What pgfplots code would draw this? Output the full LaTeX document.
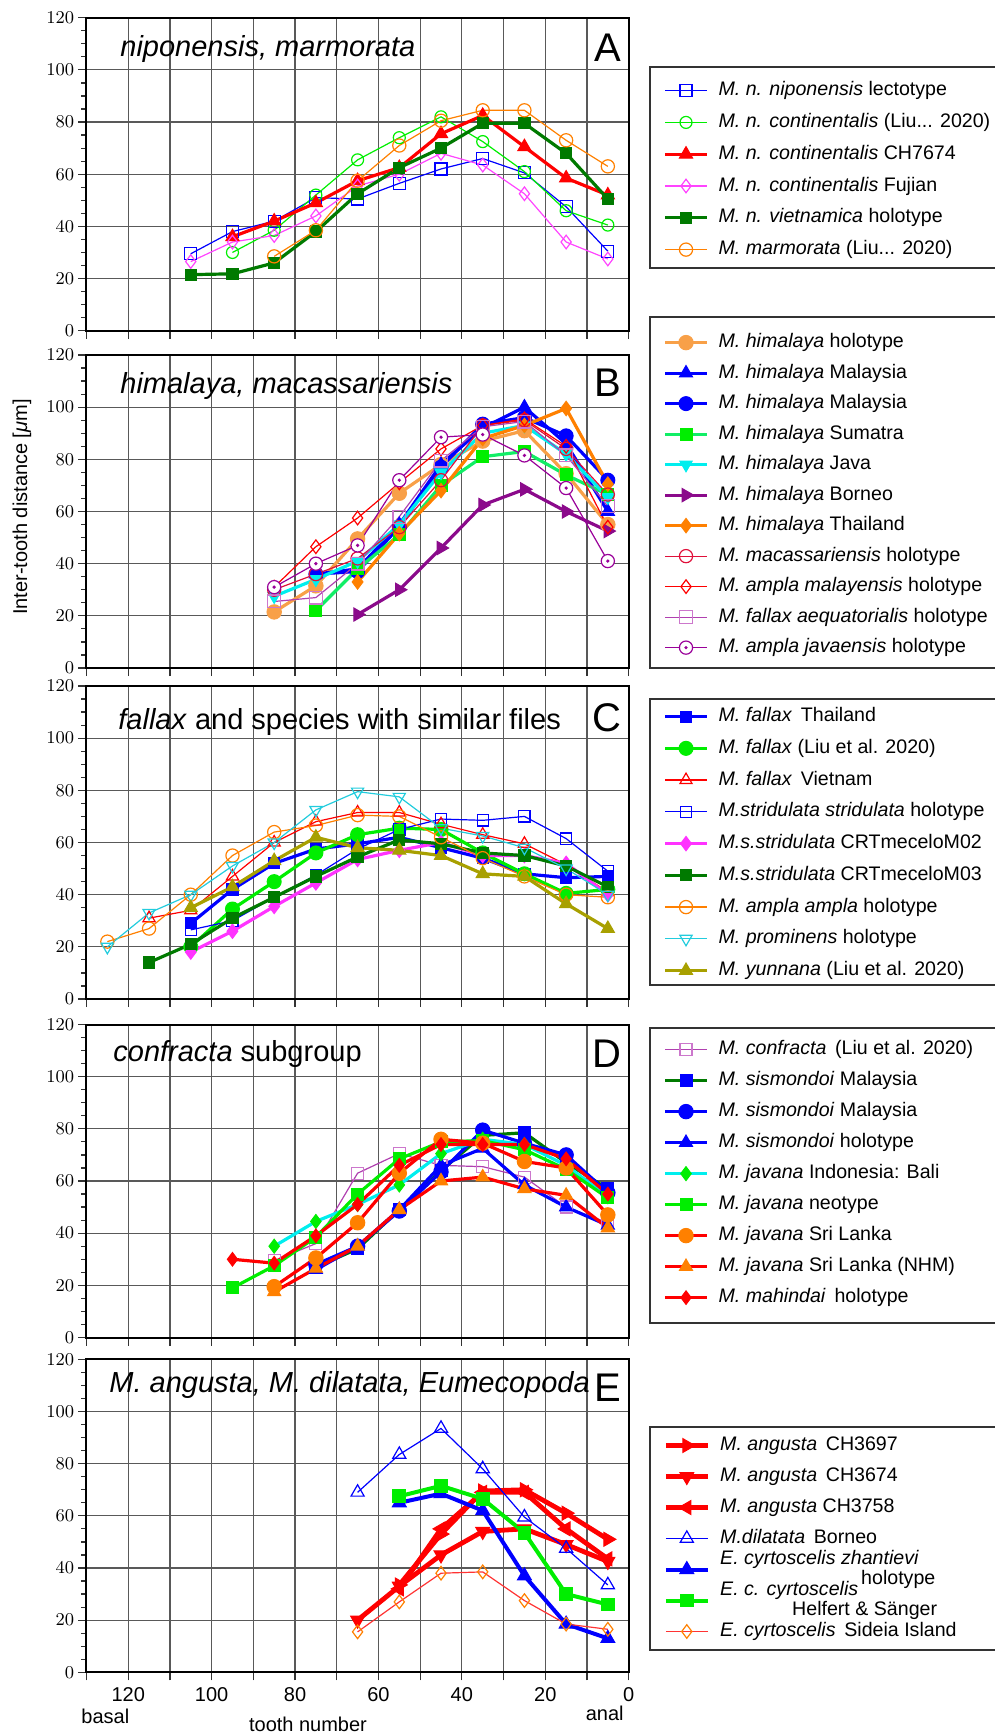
\documentclass[border=0pt]{standalone}
\usepackage{fontspec}
\setmainfont{Liberation Sans}
\setsansfont{Liberation Sans}
\usepackage{pgfplots}
\pgfplotsset{compat=1.18}

\definecolor{cblue}{HTML}{0000FF}
\definecolor{cgreen}{HTML}{00EE00}
\definecolor{cred}{HTML}{FF0000}
\definecolor{cmag}{HTML}{FF44FF}
\definecolor{cdkgreen}{HTML}{007A00}
\definecolor{corange}{HTML}{FF8000}
\definecolor{clorange}{HTML}{F8A048}
\definecolor{cmint}{HTML}{11EE66}
\definecolor{ccyan}{HTML}{00EEEE}
\definecolor{cborneo}{HTML}{8B0A8B}
\definecolor{ccrimson}{HTML}{E0103A}
\definecolor{cpp}{HTML}{B040B0}
\definecolor{cpinksq}{HTML}{CC77CC}
\definecolor{cjav}{HTML}{990099}
\definecolor{colive}{HTML}{A8A000}
\definecolor{cprom}{HTML}{22CCDD}
\definecolor{cmag2}{HTML}{FF33FF}

\pgfdeclareplotmark{odot}{%
  \pgfpathcircle{\pgfpointorigin}{\pgfplotmarksize}%
  \pgfusepathqfillstroke
  \pgfpathcircle{\pgfpointorigin}{0.15\pgfplotmarksize}%
  \pgfusepathqstroke
}

\pgfplotsset{
  panel/.style={
    scale only axis, width=271.1pt, height=156.5pt, anchor=north west,
    xmin=0, xmax=130, ymin=0, ymax=120, x dir=reverse,
    xtick={0,10,...,130}, xticklabels={},
    ytick={0,20,...,120}, minor y tick num=3,
    tick pos=left, tick align=outside,
    major tick length=4pt, minor tick length=2.5pt,
    xmajorgrids, ymajorgrids,
    major grid style={black!65, line width=0.6pt},
    every tick/.style={black!80, line width=0.6pt},
    axis line style={black, line width=1pt},
    yticklabel style={font=\fontsize{9.5}{11}\selectfont, inner sep=2pt},
    xticklabel style={font=\fontsize{10}{12}\selectfont},
    legend cell align=left,
    legend style={draw=none, fill=none, inner sep=0pt, anchor=north west,
       font=\fontsize{9.8}{12}\selectfont,
       nodes={inner sep=1pt, text height=7pt, text depth=2pt},
       /tikz/every odd column/.append style={column sep=4pt}},
    legend image code/.code={\draw[mark repeat=2,mark phase=2,##1] plot coordinates {(0pt,0pt) (10.5pt,0pt) (21pt,0pt)};},
  },
  tl/.style={line width=0.6pt, mark size=3pt, every mark/.append style={line width=0.6pt, solid}},
  tk/.style={line width=1.6pt, mark size=3.4pt, every mark/.append style={line width=0.5pt, solid}},
  wf/.style={every mark/.append style={fill=white}},
}

\begin{document}
\begin{tikzpicture}
\path[use as bounding box] (0,0) rectangle (497.5pt,-867.5pt);

% ---------------- Panel A ----------------
\begin{axis}[panel, at={(43.25pt,-8.85pt)}, legend style={at={(1.0633,0.8035)}, row sep=4.9pt}]
\addplot[tl, color=cblue, mark=square, wf] coordinates {(105,29.5)(95,38)(85,42)(75,51)(65,50.5)(55,56.5)(45,62)(35,66)(25,60.5)(15,47.5)(5,30.5)};
\addlegendentry{\textit{M. n. niponensis} lectotype}
\addplot[tl, color=cgreen, mark=o, wf] coordinates {(95,30)(85,38.5)(75,52)(65,65.5)(55,74)(45,82)(35,72.5)(25,61)(15,46)(5,40.5)};
\addlegendentry{\textit{M. n. continentalis} (Liu... 2020)}
\addplot[tk, color=cred, mark=triangle*, mark size=3.8pt] coordinates {(95,36)(85,42)(75,49)(65,57.5)(55,62.5)(45,75.5)(35,82.5)(25,70.5)(15,58.5)(5,52)};
\addlegendentry{\textit{M. n. continentalis} CH7674}
\addplot[tl, color=cmag, mark=diamond, mark size=3.4pt, wf] coordinates {(105,26.5)(95,34)(85,36.5)(75,44)(65,55.5)(55,60)(45,68)(35,63.5)(25,52.5)(15,34)(5,27.5)};
\addlegendentry{\textit{M. n. continentalis} Fujian}
\addplot[tk, color=cdkgreen, mark=square*, mark size=2.8pt] coordinates {(105,21.5)(95,21.8)(85,26)(75,38)(65,52.5)(55,62.5)(45,70)(35,79.5)(25,79.5)(15,68)(5,50.5)};
\addlegendentry{\textit{M. n. vietnamica} holotype}
\addplot[tl, color=corange, mark=o, mark size=3.3pt, wf] coordinates {(85,28.5)(75,38.5)(65,57.5)(55,71)(45,80.5)(35,84.5)(25,84.5)(15,73)(5,63)};
\addlegendentry{\textit{M. marmorata} (Liu... 2020)}
\end{axis}

% ---------------- Panel B ----------------
\begin{axis}[panel, at={(43.25pt,-177.5pt)}, legend style={at={(1.0633,1.076)}, row sep=4.25pt}]
\addplot[tk, color=clorange, mark=*, mark size=3.6pt] coordinates {(85,21.5)(75,31.5)(65,49.5)(55,67)(45,78)(35,87)(25,91)(15,74.5)(5,55)};
\addlegendentry{\textit{M. himalaya} holotype}
\addplot[tk, color=cblue, mark=triangle*, mark size=3.8pt] coordinates {(75,36)(65,38)(55,55)(45,78)(35,92)(25,100)(15,86)(5,60)};
\addlegendentry{\textit{M. himalaya} Malaysia}
\addplot[tk, color=cblue, mark=*, mark size=3.5pt] coordinates {(75,36)(65,37)(55,54)(45,77)(35,93.5)(25,96)(15,89)(5,72)};
\addlegendentry{\textit{M. himalaya} Malaysia}
\addplot[tk, color=cmint, mark=square*, mark size=3pt, every mark/.append style={fill=cgreen, draw=cgreen}] coordinates {(75,22)(65,38)(55,51)(45,70)(35,81)(25,83)(15,74)(5,66.5)};
\addlegendentry{\textit{M. himalaya} Sumatra}
\addplot[tk, color=ccyan, mark=triangle*, mark size=3.6pt, every mark/.append style={rotate=180}] coordinates {(85,27.5)(75,34)(65,41)(55,55)(45,75)(35,90)(25,93)(15,82)(5,65.5)};
\addlegendentry{\textit{M. himalaya} Java}
\addplot[tk, color=cborneo, mark=triangle*, mark size=3.8pt, every mark/.append style={rotate=-90}] coordinates {(65,20.5)(55,30)(45,46)(35,62.5)(25,68.5)(15,60)(5,52.5)};
\addlegendentry{\textit{M. himalaya} Borneo}
\addplot[tk, color=corange, mark=diamond*, mark size=3.6pt] coordinates {(65,33)(55,51.5)(45,68)(35,88)(25,93)(15,99.5)(5,70.5)};
\addlegendentry{\textit{M. himalaya} Thailand}
\addplot[tl, color=ccrimson, mark=o, mark size=3.3pt, wf] coordinates {(85,30)(75,36)(65,42)(55,54)(45,72)(35,93)(25,95)(15,84)(5,66.5)};
\addlegendentry{\textit{M. macassariensis} holotype}
\addplot[tl, color=cred, mark=diamond, mark size=3.4pt, wf] coordinates {(85,31)(75,46.5)(65,57.5)(55,71)(45,84)(35,93)(25,95.5)(15,85)(5,54)};
\addlegendentry{\textit{M. ampla malayensis} holotype}
\addplot[tl, color=cpp, mark=square, mark size=3.2pt, every mark/.append style={fill=white, draw=cpinksq}] coordinates {(85,25.5)(75,27)(65,40)(55,58)(45,79.5)(35,92.5)(25,94.5)(15,81.5)(5,62)};
\addlegendentry{\textit{M. fallax aequatorialis} holotype}
\addplot[tl, color=cjav, mark=odot, mark size=3.3pt, wf] coordinates {(85,31)(75,40)(65,47)(55,72)(45,88.5)(35,89.5)(25,81.5)(15,69)(5,41)};
\addlegendentry{\textit{M. ampla javaensis} holotype}
\end{axis}

% ---------------- Panel C ----------------
\begin{axis}[panel, at={(43.25pt,-343pt)}, legend style={at={(1.0633,0.9387)}, row sep=4.875pt}]
\addplot[tk, color=cblue, mark=square*, mark size=2.8pt] coordinates {(105,29)(95,42)(85,52)(75,57.5)(65,59.5)(55,62)(45,58)(35,54)(25,48)(15,46.5)(5,47)};
\addlegendentry{\textit{M. fallax}\, Thailand}
\addplot[tk, color=cgreen, mark=*, mark size=3.5pt] coordinates {(105,20)(95,34.5)(85,45)(75,56)(65,63)(55,65.5)(45,65)(35,56)(25,48)(15,40.5)(5,42)};
\addlegendentry{\textit{M. fallax} (Liu et al. 2020)}
\addplot[tl, color=cred, mark=triangle, mark size=3.5pt, wf] coordinates {(115,31)(105,34)(95,47)(85,60)(75,68)(65,71.5)(55,71.5)(45,67)(35,63)(25,59.5)(15,51.5)(5,41)};
\addlegendentry{\textit{M. fallax}\, Vietnam}
\addplot[tl, color=cblue, mark=square, mark size=2.8pt, wf] coordinates {(105,26.5)(95,30)(85,39)(75,47.5)(65,57.5)(55,65)(45,69)(35,68.5)(25,70)(15,61.5)(5,49)};
\addlegendentry{\textit{M.stridulata stridulata} holotype}
\addplot[tk, color=cmag2, mark=diamond*, mark size=3.6pt] coordinates {(105,18)(95,26)(85,35.5)(75,44.5)(65,53.5)(55,57)(45,60)(35,55)(25,55)(15,52)(5,40)};
\addlegendentry{\textit{M.s.stridulata} CRTmeceloM02}
\addplot[tk, color=cdkgreen, mark=square*, mark size=2.8pt] coordinates {(115,14)(105,21)(95,31)(85,39)(75,47)(65,54.5)(55,61)(45,59.5)(35,56)(25,55)(15,51)(5,43)};
\addlegendentry{\textit{M.s.stridulata} CRTmeceloM03}
\addplot[tl, color=corange, mark=o, mark size=3.3pt, wf] coordinates {(125,22)(115,27)(105,40)(95,55)(85,64)(75,66.5)(65,70.5)(55,70)(45,62)(35,54)(25,47)(15,40)(5,39)};
\addlegendentry{\textit{M. ampla ampla} holotype}
\addplot[tl, color=cprom, mark=triangle, mark size=3.5pt, every mark/.append style={fill=white, rotate=180}] coordinates {(125,20)(115,33)(105,40)(95,51)(85,60)(75,72.5)(65,79.5)(55,77.5)(45,65.5)(35,62.5)(25,58)(15,50)(5,40)};
\addlegendentry{\textit{M. prominens} holotype}
\addplot[tk, color=colive, mark=triangle*, mark size=3.8pt] coordinates {(105,35)(95,43)(85,53)(75,62)(65,58)(55,57)(45,55)(35,48)(25,47)(15,36.5)(5,27)};
\addlegendentry{\textit{M. yunnana} (Liu et al. 2020)}
\end{axis}

% ---------------- Panel D ----------------
\begin{axis}[panel, at={(43.25pt,-512.25pt)}, legend style={at={(1.0633,0.9562)}, row sep=4.5pt}]
\addplot[tl, color=cpp, mark=square, mark size=3pt, every mark/.append style={fill=white, draw=cpinksq}] coordinates {(85,29.5)(75,36)(65,63)(55,70.5)(45,66)(35,65.5)(25,61.5)(15,50)(5,44)};
\addlegendentry{\textit{M. confracta}\, (Liu et al. 2020)}
\addplot[tk, color=cdkgreen, mark=square*, mark size=3pt, every mark/.append style={fill=cblue, draw=cblue}] coordinates {(75,27)(65,34)(55,49)(45,64)(35,77.5)(25,78.5)(15,67)(5,57)};
\addlegendentry{\textit{M. sismondoi} Malaysia}
\addplot[tk, color=cblue, mark=*, mark size=3.6pt] coordinates {(75,28)(65,35)(55,48.5)(45,63.5)(35,79.5)(25,74.5)(15,70)(5,55.5)};
\addlegendentry{\textit{M. sismondoi} Malaysia}
\addplot[tk, color=cblue, mark=triangle*, mark size=3.8pt] coordinates {(75,26)(65,35)(55,49)(45,66)(35,72.5)(25,58.5)(15,50)(5,43)};
\addlegendentry{\textit{M. sismondoi} holotype}
\addplot[tk, color=ccyan, mark=diamond*, mark size=3.5pt, every mark/.append style={fill=cgreen, draw=cgreen}] coordinates {(85,35)(75,44.5)(65,51)(55,58.5)(45,70.5)(35,76)(25,74)(15,66)(5,54)};
\addlegendentry{\textit{M. javana} Indonesia: Bali}
\addplot[tk, color=cgreen, mark=square*, mark size=3pt] coordinates {(95,19)(85,27.5)(75,38.5)(65,55)(55,68.5)(45,75)(35,75.5)(25,72)(15,64.5)(5,53.5)};
\addlegendentry{\textit{M. javana} neotype}
\addplot[tk, color=cred, mark=*, mark size=3.6pt, every mark/.append style={fill=corange, draw=corange}] coordinates {(85,19.5)(75,30.5)(65,44)(55,63)(45,76)(35,74.5)(25,67.5)(15,65)(5,47)};
\addlegendentry{\textit{M. javana} Sri Lanka}
\addplot[tk, color=cred, mark=triangle*, mark size=3.8pt, every mark/.append style={fill=corange, draw=corange}] coordinates {(85,17.5)(75,26.5)(65,35)(55,49)(45,60)(35,61.5)(25,57)(15,54.5)(5,42)};
\addlegendentry{\textit{M. javana} Sri Lanka (NHM)}
\addplot[tk, color=cred, mark=diamond*, mark size=3.4pt] coordinates {(95,30)(85,28.5)(75,39)(65,51)(55,66)(45,74)(35,74)(25,74)(15,68.5)(5,55)};
\addlegendentry{\textit{M. mahindai}\, holotype}
\end{axis}

% ---------------- Panel E ----------------
\begin{axis}[panel, at={(43.25pt,-679.65pt)}, xticklabels={0,,20,,40,,60,,80,,100,,120,},
  legend style={at={(1.0633,0.761)}, row sep=4.5pt}]
\addplot[tk, line width=2.4pt, color=cred, mark=triangle*, mark size=4pt, every mark/.append style={rotate=-90}] coordinates {(55,33.5)(45,53)(35,69.5)(25,70)(15,61)(5,51)};
\addlegendentry{\textit{M. angusta}\, CH3697}
\addplot[tk, line width=2.4pt, color=cred, mark=triangle*, mark size=4pt, every mark/.append style={rotate=180}] coordinates {(65,20)(55,33)(45,45)(35,54)(25,55)(15,49)(5,42.5)};
\addlegendentry{\textit{M. angusta}\, CH3674}
\addplot[tk, line width=2.4pt, color=cred, mark=triangle*, mark size=4pt, every mark/.append style={rotate=90}] coordinates {(55,32)(45,55)(35,69)(25,69)(15,55)(5,43.5)};
\addlegendentry{\textit{M. angusta} CH3758}
\addplot[tl, color=cblue, mark=triangle, mark size=3.8pt, wf] coordinates {(65,69)(55,83.5)(45,93.5)(35,78)(25,59.5)(15,47.5)(5,33.5)};
\addlegendentry{\textit{M.dilatata}\, Borneo}
\addplot[tk, line width=2pt, color=cblue, mark=triangle*, mark size=4pt] coordinates {(55,65)(45,68.5)(35,62)(25,37)(15,18.5)(5,13)};
\addlegendentry{\smash{$\vcenter{\baselineskip=8.5pt\hbox{\textit{E. cyrtoscelis zhantievi}}\hbox{\hspace*{70.5pt}holotype}}$}}
\addplot[tk, line width=2pt, color=cgreen, mark=square*, mark size=3.2pt] coordinates {(55,67.5)(45,71.5)(35,66.5)(25,53.5)(15,30)(5,26)};
\addlegendentry{\smash{$\vcenter{\baselineskip=8.5pt\hbox{\textit{E. c. cyrtoscelis}}\hbox{\hspace*{36pt}Helfert \& Sänger}}$}}
\addplot[tl, color=cred!80, mark=diamond, mark size=3.4pt, every mark/.append style={fill=white, draw=corange}] coordinates {(65,15.5)(55,27)(45,38)(35,38.5)(25,27.5)(15,18.5)(5,16.5)};
\addlegendentry{\textit{E. cyrtoscelis}\, Sideia Island}
\end{axis}

% legend frames
\draw[black!80, line width=0.9pt] (325pt,-33.5pt) rectangle (500pt,-134pt);
\draw[black!80, line width=0.9pt] (325pt,-158.35pt) rectangle (500pt,-334pt);
\draw[black!80, line width=0.9pt] (325pt,-349.5pt) rectangle (500pt,-492.5pt);
\draw[black!80, line width=0.9pt] (325pt,-514pt) rectangle (500pt,-661.5pt);
\draw[black!80, line width=0.9pt] (325pt,-713.35pt) rectangle (500pt,-825pt);

% panel titles
\begin{scope}[every node/.style={font=\fontsize{14.5}{17}\selectfont, inner sep=0pt, anchor=base west}]
\node at (60pt,-28.35pt) {\itshape niponensis, marmorata};
\node at (60pt,-196.65pt) {\itshape himalaya, macassariensis};
\node at (59pt,-364.5pt) {\textit{fallax} and species with similar files};
\node at (56.5pt,-530.75pt) {\textit{confracta} subgroup};
\node at (54.5pt,-696.35pt) {\itshape M. angusta, M. dilatata, Eumecopoda};
\end{scope}
\begin{scope}[every node/.style={font=\fontsize{20}{24}\selectfont, inner sep=0pt, anchor=base east}]
\node at (311pt,-30.85pt) {A};
\node at (311pt,-198pt) {B};
\node at (311pt,-365.5pt) {C};
\node at (311pt,-533.75pt) {D};
\node at (311pt,-700.65pt) {E};
\end{scope}

% axis labels
\node[rotate=90, font=\fontsize{10}{12}\selectfont] at (11pt,-253.5pt) {Inter-tooth distance [\textit{μ}m]};
\node[anchor=base west, inner sep=0pt, font=\fontsize{10}{12}\selectfont] at (40.5pt,-861.5pt) {basal};
\node[anchor=base east, inner sep=0pt, font=\fontsize{10}{12}\selectfont] at (312pt,-860pt) {anal};
\node[anchor=base, inner sep=0pt, font=\fontsize{10}{12}\selectfont] at (154pt,-865.85pt) {tooth number};
\end{tikzpicture}
\end{document}
